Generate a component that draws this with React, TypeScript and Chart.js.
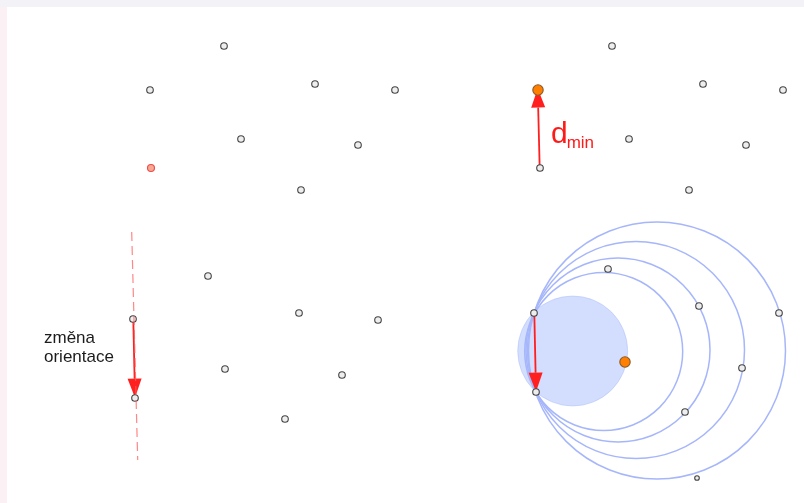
import React, { useEffect, useRef } from "react";
import { Chart, registerables } from "chart.js";

Chart.register(...registerables);

// Sample points, four panels (x, y in drawing units, y grows downward)
const topLeftX = [224, 150, 315, 395, 241, 358, 301];
const topLeftY = [46, 90, 84, 90, 139, 145, 190];
const highlightX = [151];
const highlightY = [168];

const bottomLeftX = [208, 299, 378, 133, 225, 342, 135, 285];
const bottomLeftY = [276, 313, 320, 319, 369, 375, 398, 419];

const topRightX = [612, 703, 783, 629, 746, 540, 689];
const topRightY = [46, 84, 90, 139, 145, 168, 190];
const nearestX = [538, 625];
const nearestY = [90, 362];

const bottomRightX = [608, 699, 779, 534, 742, 536, 685, 697];
const bottomRightY = [269, 306, 313, 313, 368, 392, 412, 478];
const bottomRightSize = [3.3, 3.3, 3.3, 3.3, 3.3, 3.3, 3.3, 2.3];

// Orientation line through the flipped edge
const guideX = [131.7, 137.7];
const guideY = [232, 460];

// Circles through the edge endpoints
const discCenter = [572.7, 351];
const discRadius = 55;
const ringCenterX = [603.7, 618, 636, 657];
const ringCenterY = [351.5, 350, 350, 350.5];
const ringRadius = [79, 92, 108.5, 128.5];

// Arrows: start -> tip
const arrowFromX = [133.3, 539.7, 534.3];
const arrowFromY = [319.3, 168.3, 312.7];
const arrowToX = [135, 537.7, 536];
const arrowToY = [397.7, 88.5, 391.7];

const sideLabel = ["změna", "orientace"];
const distLabel = "d";
const distSub = "min";

const pts = (xs: number[], ys: number[]) => xs.map((x, i) => ({ x, y: ys[i] }));

const FONT = '"Liberation Sans", Arial, sans-serif';

const diagramPlugin = {
  id: "diagram",
  beforeDraw(chart: any) {
    const { ctx, width, height } = chart;
    ctx.save();
    ctx.fillStyle = "#ffffff";
    ctx.fillRect(0, 0, width, height);
    ctx.fillStyle = "#fbf1f4";
    ctx.fillRect(0, 0, 7, height);
    ctx.fillStyle = "#f3f2f7";
    ctx.fillRect(0, 0, width, 7);
    ctx.restore();
  },
  beforeDatasetsDraw(chart: any) {
    const { ctx } = chart;
    const sx = chart.scales.x;
    const sy = chart.scales.y;
    const px = (v: number) => sx.getPixelForValue(v);
    const py = (v: number) => sy.getPixelForValue(v);
    const unit = Math.abs(px(1) - px(0));
    ctx.save();
    // shaded disc
    ctx.beginPath();
    ctx.arc(px(discCenter[0]), py(discCenter[1]), discRadius * unit, 0, Math.PI * 2);
    ctx.fillStyle = "rgba(150,175,250,0.42)";
    ctx.fill();
    ctx.strokeStyle = "rgba(150,175,250,0.35)";
    ctx.lineWidth = 1;
    ctx.stroke();
    // rings
    ctx.strokeStyle = "#a6b6fb";
    ctx.lineWidth = 1.5;
    ringRadius.forEach((r, i) => {
      ctx.beginPath();
      ctx.arc(px(ringCenterX[i]), py(ringCenterY[i]), r * unit, 0, Math.PI * 2);
      ctx.stroke();
    });
    // arrows
    ctx.strokeStyle = "#ff1f1f";
    ctx.fillStyle = "#ff1f1f";
    arrowFromX.forEach((_, i) => {
      const x0 = px(arrowFromX[i]);
      const y0 = py(arrowFromY[i]);
      const x1 = px(arrowToX[i]);
      const y1 = py(arrowToY[i]);
      const ang = Math.atan2(y1 - y0, x1 - x0);
      const headLen = 19;
      const headHalf = 7;
      const bx = x1 - headLen * Math.cos(ang);
      const by = y1 - headLen * Math.sin(ang);
      ctx.lineWidth = 1.8;
      ctx.beginPath();
      ctx.moveTo(x0, y0);
      ctx.lineTo(bx, by);
      ctx.stroke();
      ctx.beginPath();
      ctx.moveTo(x1, y1);
      ctx.lineTo(bx + headHalf * Math.sin(ang), by - headHalf * Math.cos(ang));
      ctx.lineTo(bx - headHalf * Math.sin(ang), by + headHalf * Math.cos(ang));
      ctx.closePath();
      ctx.fill();
    });
    ctx.restore();
  },
  afterDatasetsDraw(chart: any) {
    const { ctx } = chart;
    const sx = chart.scales.x;
    const sy = chart.scales.y;
    ctx.save();
    ctx.textBaseline = "alphabetic";
    ctx.textAlign = "left";
    ctx.fillStyle = "#1c1c1c";
    ctx.font = `17px ${FONT}`;
    ctx.fillText(sideLabel[0], sx.getPixelForValue(44), sy.getPixelForValue(343));
    ctx.fillText(sideLabel[1], sx.getPixelForValue(44), sy.getPixelForValue(362));
    ctx.fillStyle = "#ff1a1a";
    ctx.font = `30px ${FONT}`;
    const dx = sx.getPixelForValue(551);
    ctx.fillText(distLabel, dx, sy.getPixelForValue(143));
    const dw = ctx.measureText(distLabel).width;
    ctx.font = `17px ${FONT}`;
    ctx.fillText(distSub, dx + dw - 1, sy.getPixelForValue(147.5));
    ctx.restore();
  },
};

export default function App() {
  const ref = useRef<HTMLCanvasElement | null>(null);

  useEffect(() => {
    document.body.style.margin = "0";
    const canvas = ref.current;
    if (!canvas) return;
    const hollow = {
      backgroundColor: "#eeeeee",
      borderColor: "#444444",
      borderWidth: 1.1,
      pointRadius: 3.3,
      showLine: false,
      clip: false as any,
    };
    const chart = new Chart(canvas, {
      type: "scatter",
      data: {
        datasets: [
          {
            ...hollow,
            data: pts(guideX, guideY),
            showLine: true,
            borderColor: "rgba(255,95,95,0.75)",
            borderWidth: 1.2,
            borderDash: [9, 5],
            pointRadius: 0,
          },
          { ...hollow, data: pts(topLeftX, topLeftY) },
          { ...hollow, data: pts(bottomLeftX, bottomLeftY) },
          { ...hollow, data: pts(topRightX, topRightY) },
          { ...hollow, data: pts(bottomRightX, bottomRightY), pointRadius: bottomRightSize },
          {
            ...hollow,
            data: pts(highlightX, highlightY),
            backgroundColor: "#f6a992",
            borderColor: "#f04a4a",
            pointRadius: 3.5,
          },
          {
            ...hollow,
            data: pts(nearestX, nearestY),
            backgroundColor: "#ff7f00",
            borderColor: "#8a5a2a",
            pointRadius: 5.2,
          },
        ],
      },
      options: {
        animation: false,
        responsive: false,
        maintainAspectRatio: false,
        layout: { padding: 0, autoPadding: false },
        events: [],
        plugins: {
          legend: { display: false },
          tooltip: { enabled: false },
        },
        scales: {
          x: { type: "linear", min: 0, max: 804, display: false },
          y: { type: "linear", min: 0, max: 503, reverse: true, display: false },
        },
      },
      plugins: [diagramPlugin],
    });
    return () => chart.destroy();
  }, []);

  return (
    <div style={{ position: "fixed", left: 0, top: 0, width: 804, height: 503 }}>
      <canvas ref={ref} width={804} height={503} />
    </div>
  );
}
